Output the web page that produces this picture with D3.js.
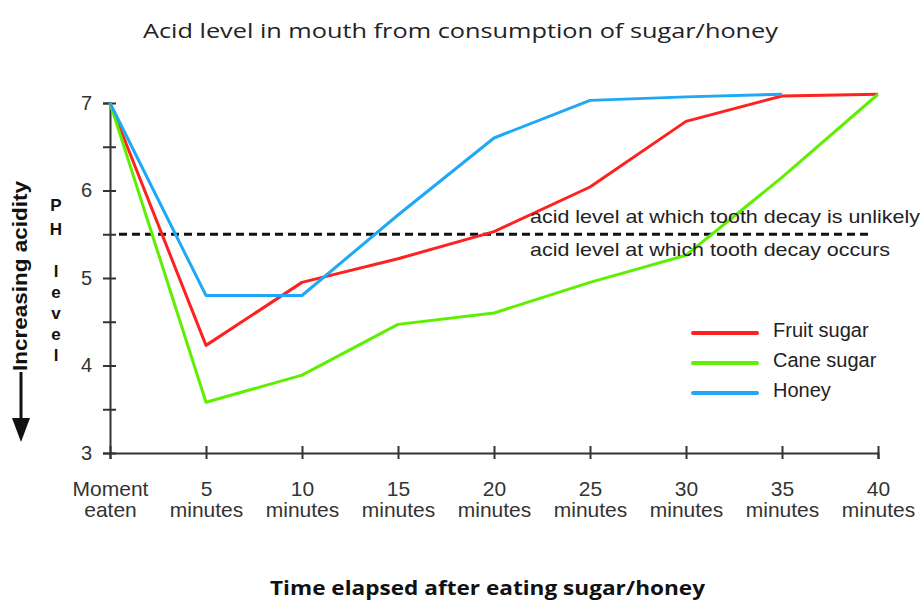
<!DOCTYPE html>
<html>
<head>
<meta charset="utf-8">
<script src="https://cdn.jsdelivr.net/npm/d3@7"></script>
<style>
  body { margin: 0; background: #fff; }
  svg { display: block; }
</style>
</head>
<body>
<div id="chart"></div>
<script>
// chart data
var minutes = [0, 5, 10, 15, 20, 25, 30, 35, 40];
var xLabelTop = ["Moment", "5", "10", "15", "20", "25", "30", "35", "40"];
var xLabelBottom = ["eaten", "minutes", "minutes", "minutes", "minutes", "minutes", "minutes", "minutes", "minutes"];

var fruitSugar = [7, 4.23, 4.95, 5.22, 5.53, 6.04, 6.79, 7.08, 7.1];
var caneSugar = [7, 3.58, 3.89, 4.47, 4.6, 4.95, 5.26, 6.15, 7.1];
var honey = [7, 4.8, 4.8, 5.72, 6.6, 7.03, 7.07, 7.1]; // stops at 35 minutes

var seriesNames = ["Fruit sugar", "Cane sugar", "Honey"];
var seriesColors = ["#ff2020", "#5ef000", "#1ea8f5"];
var seriesValues = [fruitSugar, caneSugar, honey];

var yTicks = [3, 3.5, 4, 4.5, 5, 5.5, 6, 6.5, 7];
var decayLevel = 5.5;

var width = 922, height = 606;

var svg = d3.select("#chart")
    .append("svg")
    .attr("width", width)
    .attr("height", height);

var x = d3.scaleLinear().domain([0, 40]).range([110, 878]);
var y = d3.scaleLinear().domain([3, 7]).range([453, 103]);

// title
svg.append("text")
    .attr("x", 143)
    .attr("y", 38)
    .attr("textLength", 635)
    .attr("lengthAdjust", "spacingAndGlyphs")
    .style("font-family", "'Open Sans', sans-serif")
    .style("font-size", "20px")
    .style("fill", "#222")
    .text("Acid level in mouth from consumption of sugar/honey");

// y axis
var yAxis = d3.axisLeft(y)
    .tickValues(yTicks)
    .tickSize(7)
    .tickPadding(11)
    .tickFormat(function(d) { return Number.isInteger(d) ? d : ""; });

var gy = svg.append("g")
    .attr("transform", "translate(110,0)")
    .call(yAxis);
gy.select(".domain").attr("stroke", "#333").attr("stroke-width", 2);
gy.selectAll(".tick line").attr("x1", 6).attr("stroke", "#333").attr("stroke-width", 2);
gy.selectAll(".tick text")
    .style("font-family", "'Liberation Sans', Arial, sans-serif")
    .style("font-size", "20px")
    .style("fill", "#333");

// x axis
var xAxis = d3.axisBottom(x)
    .tickValues(minutes)
    .tickSize(6)
    .tickFormat("");

var gx = svg.append("g")
    .attr("transform", "translate(0,453)")
    .call(xAxis);
gx.select(".domain").attr("stroke", "#333").attr("stroke-width", 2);
gx.selectAll(".tick line").attr("y1", -7).attr("stroke", "#333").attr("stroke-width", 2);

var xt = gx.selectAll(".tick").append("text")
    .attr("text-anchor", "middle")
    .style("font-family", "'Liberation Sans', Arial, sans-serif")
    .style("font-size", "21px")
    .style("fill", "#333");
xt.append("tspan").attr("x", 0).attr("y", 43).text(function(d, i) { return xLabelTop[i]; });
xt.append("tspan").attr("x", 0).attr("y", 64).text(function(d, i) { return xLabelBottom[i]; });

// side labels
svg.append("text")
    .attr("transform", "translate(27,276) rotate(-90)")
    .attr("text-anchor", "middle")
    .attr("textLength", 190)
    .attr("lengthAdjust", "spacingAndGlyphs")
    .style("font-family", "'Liberation Sans', Arial, sans-serif")
    .style("font-size", "21px")
    .style("font-weight", "bold")
    .style("fill", "#111")
    .text("Increasing acidity");

// arrow pointing down
svg.append("line")
    .attr("x1", 21).attr("x2", 21)
    .attr("y1", 372).attr("y2", 428)
    .attr("stroke", "#111")
    .attr("stroke-width", 3);
svg.append("path")
    .attr("d", "M12,418 L30,418 L21,442 Z")
    .attr("fill", "#111");

var phLetters = ["P", "H", "l", "e", "v", "e", "l"];
var phBaselines = [211, 235, 277, 298, 319, 340, 361];
svg.selectAll(".ph")
    .data(phLetters)
    .enter()
    .append("text")
    .attr("class", "ph")
    .attr("x", 56)
    .attr("y", function(d, i) { return phBaselines[i]; })
    .attr("text-anchor", "middle")
    .style("font-family", "'Liberation Sans', Arial, sans-serif")
    .style("font-size", "17px")
    .style("font-weight", "bold")
    .style("fill", "#111")
    .text(function(d) { return d; });

// dashed decay threshold
svg.append("line")
    .attr("x1", 119).attr("x2", 868)
    .attr("y1", y(decayLevel)).attr("y2", y(decayLevel))
    .attr("stroke", "#111")
    .attr("stroke-width", 3)
    .attr("stroke-dasharray", "8,5");

// series lines
var line = d3.line()
    .x(function(d, i) { return x(minutes[i]); })
    .y(function(d) { return y(d); });

svg.selectAll(".series")
    .data(seriesValues)
    .enter()
    .append("path")
    .attr("class", "series")
    .attr("d", line)
    .attr("fill", "none")
    .attr("stroke", function(d, i) { return seriesColors[i]; })
    .attr("stroke-width", 3)
    .attr("stroke-linejoin", "round");

// annotations
svg.append("text")
    .attr("x", 530).attr("y", 223)
    .attr("textLength", 390)
    .attr("lengthAdjust", "spacingAndGlyphs")
    .style("font-family", "'Liberation Sans', Arial, sans-serif")
    .style("font-size", "19px")
    .style("fill", "#222")
    .text("acid level at which tooth decay is unlikely");

svg.append("text")
    .attr("x", 530).attr("y", 256)
    .attr("textLength", 360)
    .attr("lengthAdjust", "spacingAndGlyphs")
    .style("font-family", "'Liberation Sans', Arial, sans-serif")
    .style("font-size", "19px")
    .style("fill", "#222")
    .text("acid level at which tooth decay occurs");

// legend
var legend = svg.selectAll(".legend")
    .data(seriesNames)
    .enter()
    .append("g")
    .attr("class", "legend")
    .attr("transform", function(d, i) { return "translate(693," + (333 + i * 30) + ")"; });

legend.append("line")
    .attr("x1", 0).attr("x2", 64)
    .attr("stroke", function(d, i) { return seriesColors[i]; })
    .attr("stroke-width", 4)
    .attr("stroke-linecap", "round");

legend.append("text")
    .attr("x", 80)
    .attr("y", 4)
    .style("font-family", "'Liberation Sans', Arial, sans-serif")
    .style("font-size", "20px")
    .style("fill", "#222")
    .text(function(d) { return d; });

// x axis title
svg.append("text")
    .attr("x", 270)
    .attr("y", 595)
    .attr("textLength", 435)
    .attr("lengthAdjust", "spacingAndGlyphs")
    .style("font-family", "'Open Sans', sans-serif")
    .style("font-size", "20px")
    .style("font-weight", "bold")
    .style("fill", "#111")
    .text("Time elapsed after eating sugar/honey");
</script>
</body>
</html>
